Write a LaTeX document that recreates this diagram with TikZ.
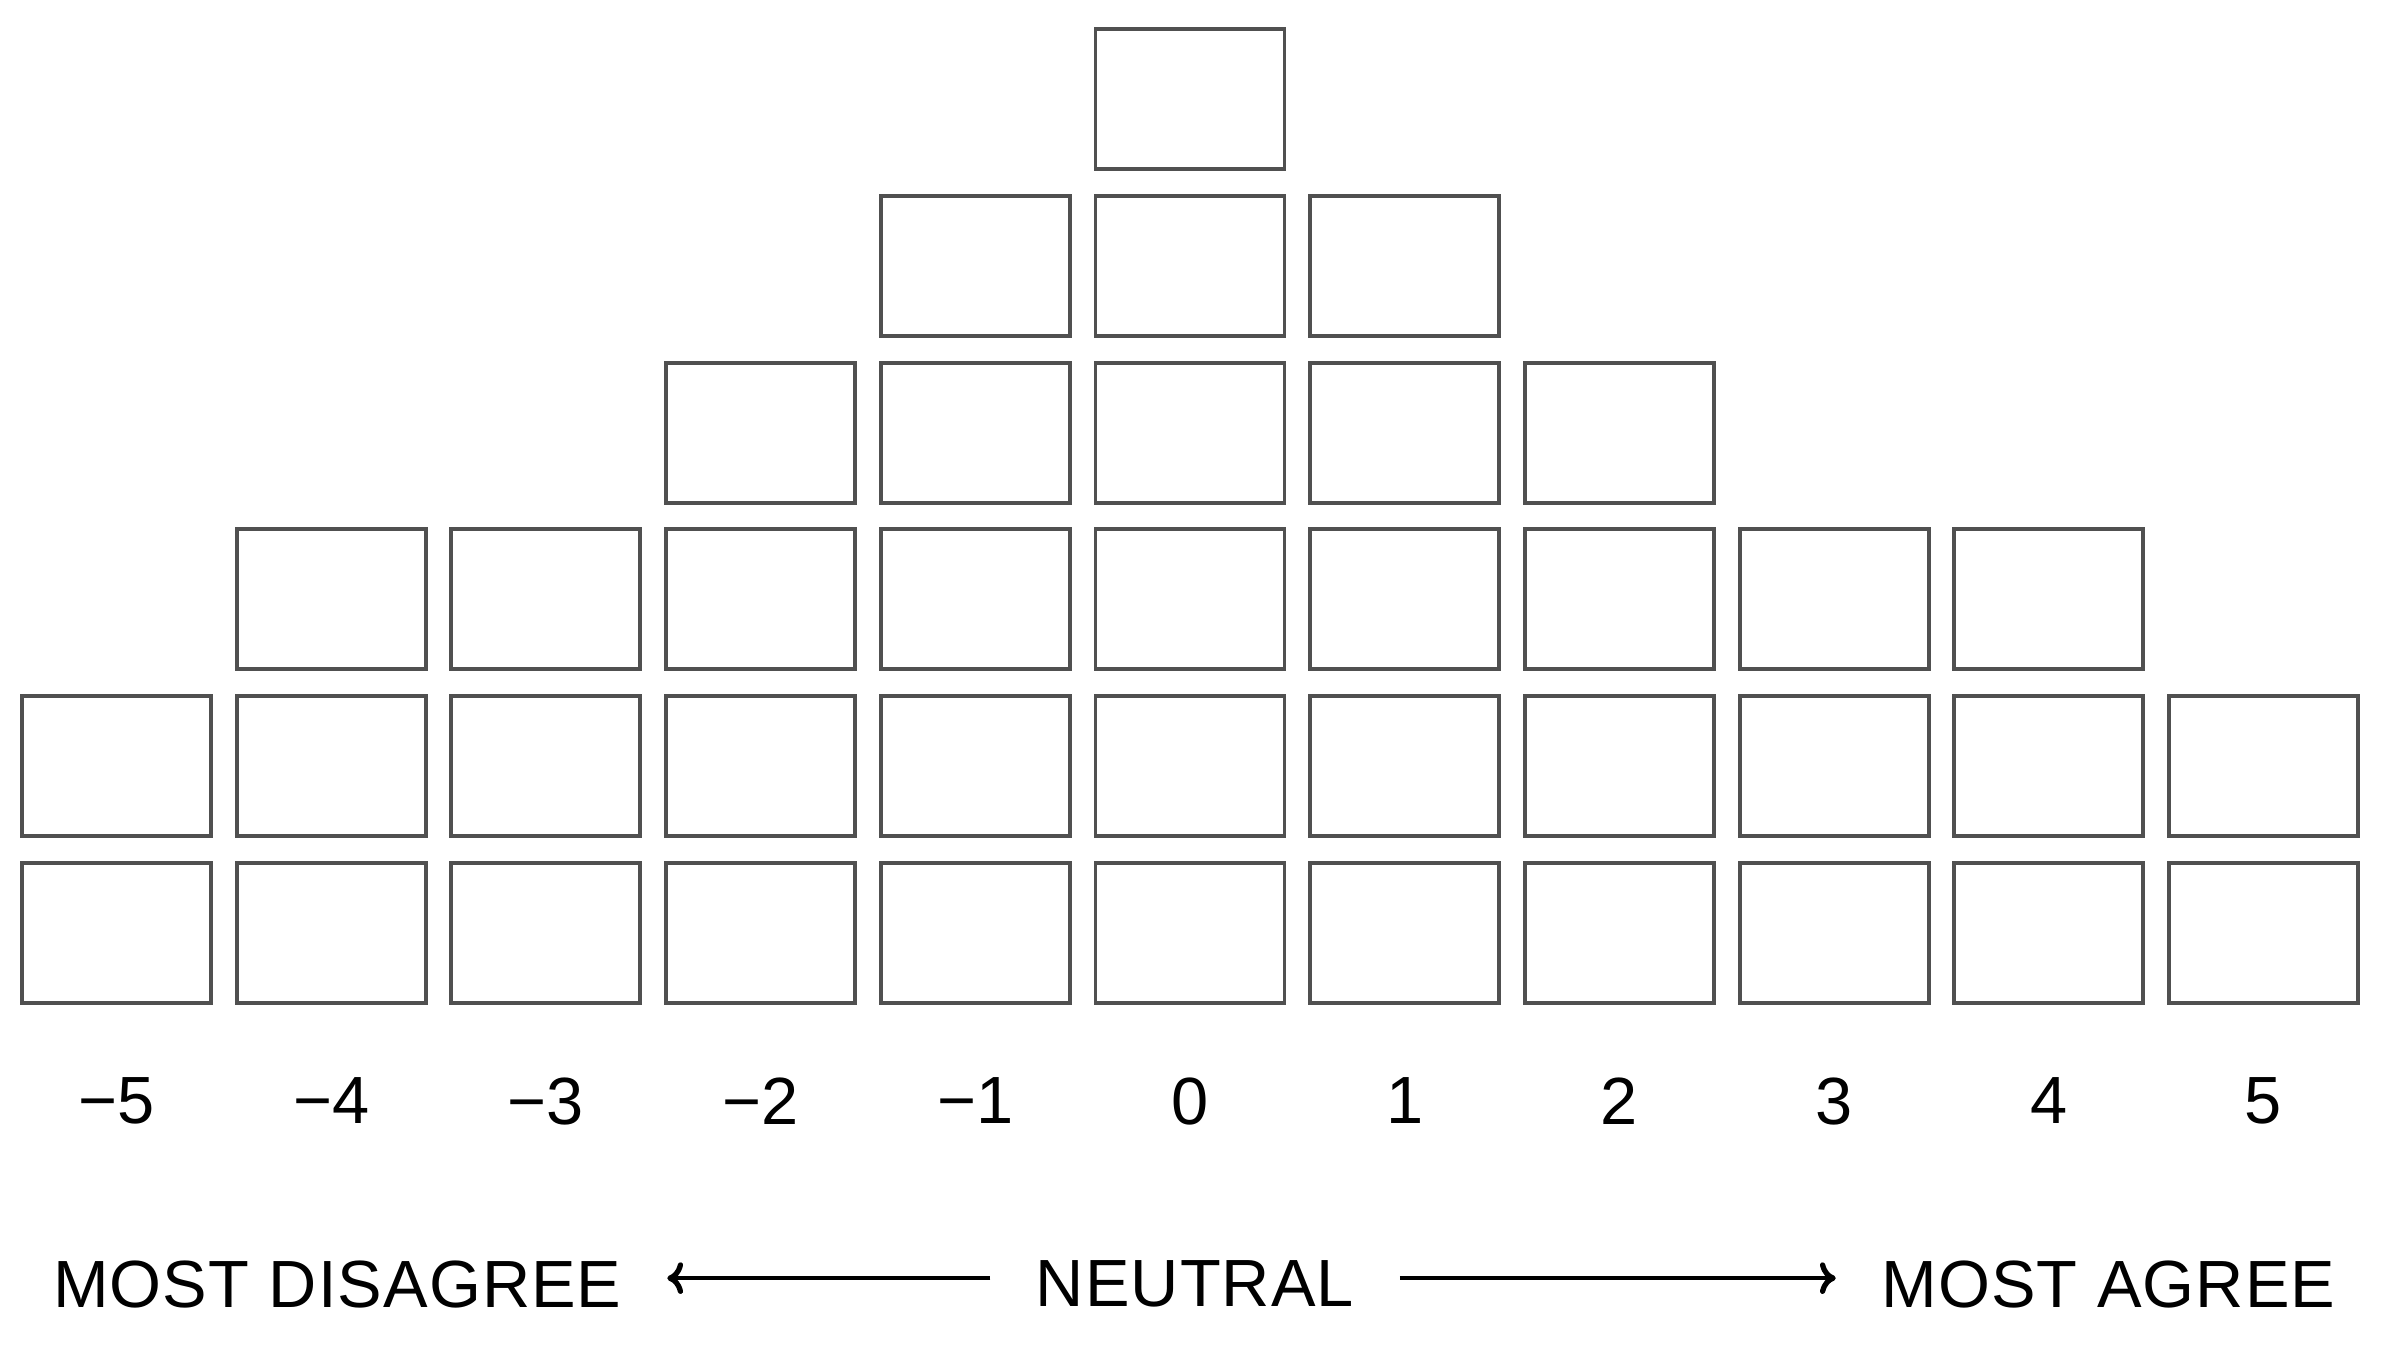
\documentclass[tikz,border=0pt]{standalone}
\usepackage{fontspec}
\setmainfont{Liberation Sans}
\newfontfamily\scalefont[LetterSpace=1.6]{Liberation Sans}
\usetikzlibrary{arrows.meta,positioning}
\definecolor{boxgray}{HTML}{505050}
\tikzset{
  sortbox/.style={draw=boxgray, line width=1.1pt, minimum width=1.89cm, minimum height=1.40cm, inner sep=0pt},
  numlabel/.style={inner sep=0pt, font=\fontsize{19pt}{23pt}\selectfont},
  scalelabel/.style={inner xsep=0.45cm, inner ysep=0pt, font=\scalefont\fontsize{19pt}{23pt}\selectfont},
  scalearrow/.style={line width=1.2pt, -{Computer Modern Rightarrow[length=4.5pt,width=9pt,line width=1.5pt]}}
}

\begin{document}
\begin{tikzpicture}
			%%%%% START %%%%%
			\useasboundingbox (0, 0) rectangle (23.97, 13.64);
			
			% columns of the forced distribution
			\foreach \n/\h [count=\i from 0] in {−5/2, −4/3, −3/3, −2/4, −1/5, 0/6, 1/5, 2/4, 3/3, 4/3, 5/2} {
				\foreach \r in {1,...,\h}
					\node[sortbox] (box-\i-\r) at ({1.165 + \i*2.147}, {4.31 + (\r-1)*1.668}) {};
				\node[numlabel, below=0.72cm of box-\i-1] (lab\i) {\n};
			}
			
			% scale
			\node[scalelabel, below=1.345cm of lab5, xshift=0.05cm] (neutral) {NEUTRAL};
			\node[scalelabel, left=3.23cm of neutral] (disagree) {MOST DISAGREE};
			\node[scalelabel, right=4.36cm of neutral] (agree) {MOST AGREE};
			
			\draw[scalearrow] ([yshift=0.6mm]neutral.west) -- ([yshift=0.6mm]disagree.east);
			\draw[scalearrow] ([yshift=0.6mm]neutral.east) -- ([yshift=0.6mm]agree.west);
			
			%%%%% END %%%%%
\end{tikzpicture}
\end{document}
